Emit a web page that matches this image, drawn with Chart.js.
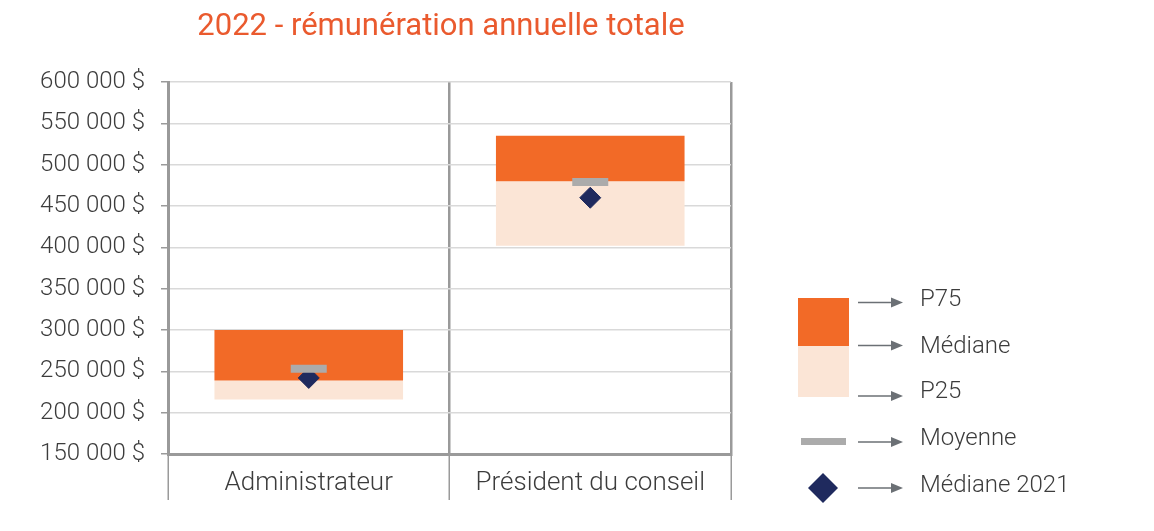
<!DOCTYPE html>
<html><head><meta charset="utf-8">
<script src="https://cdn.jsdelivr.net/npm/chart.js@4/dist/chart.umd.min.js"></script>
<style>html,body{margin:0;padding:0;background:#fff}#wrap{width:1154px;height:531px;position:relative}</style>
</head><body><div id="wrap"><canvas id="c" width="1154" height="531"></canvas></div>
<script>
const titleText = '2022 - rémunération annuelle totale';
const categories = ['Administrateur', 'Président du conseil'];
const p25 = [216000, 402000];
const mediane = [239000, 480000];
const p75 = [300000, 535000];
const moyenne = [253000, 479000];
const mediane2021 = [242000, 460000];
const yTicks = [150000, 200000, 250000, 300000, 350000, 400000, 450000, 500000, 550000, 600000];
const legendLabels = ['P75', 'Médiane', 'P25', 'Moyenne', 'Médiane 2021'];

const ORANGE = '#F26A27', LIGHT = '#FBE5D6', GREY = '#ABABAB', NAVY = '#1F2A5E', TEXT = '#3c3c3c';
const FONT = 'Roboto, "DejaVu Sans", sans-serif';

function fmt(v){ return String(v).replace(/\B(?=(\d{3})+(?!\d))/g, ' ') + ' $'; }

const extras = {
  id: 'extras',
  afterDraw(chart){
    const ctx = chart.ctx;
    ctx.save();
    ctx.fillStyle = '#EA5A2E';
    ctx.font = '400 31px ' + FONT;
    ctx.textAlign = 'center';
    ctx.textBaseline = 'middle';
    ctx.fillText(titleText, 441, 27);
    ctx.fillStyle = ORANGE; ctx.fillRect(798, 298, 51, 48);
    ctx.fillStyle = LIGHT; ctx.fillRect(798, 346, 51, 51);
    ctx.fillStyle = GREY; ctx.fillRect(801, 438, 45, 7);
    ctx.fillStyle = NAVY;
    ctx.beginPath(); ctx.moveTo(823, 473); ctx.lineTo(838, 488); ctx.lineTo(823, 503); ctx.lineTo(808, 488); ctx.closePath(); ctx.fill();
    const arrowY = [302.5, 345.5, 396, 442, 488];
    const textY = [300, 347, 392, 439, 486];
    ctx.strokeStyle = '#6b7075'; ctx.fillStyle = '#6b7075'; ctx.lineWidth = 1.3;
    arrowY.forEach(y => {
      ctx.beginPath(); ctx.moveTo(858, y); ctx.lineTo(893, y); ctx.stroke();
      ctx.beginPath(); ctx.moveTo(891, y - 5); ctx.lineTo(903, y); ctx.lineTo(891, y + 5); ctx.closePath(); ctx.fill();
    });
    ctx.fillStyle = TEXT; ctx.font = '300 24px ' + FONT; ctx.textAlign = 'left';
    legendLabels.forEach((t, i) => ctx.fillText(t, 920, textY[i]));
    ctx.restore();
  }
};

new Chart(document.getElementById('c'), {
  data: {
    labels: categories,
    datasets: [
      { type: 'line', label: 'Moyenne', data: moyenne, showLine: false, pointStyle: 'line', pointRadius: 18, pointHoverRadius: 18, pointBorderWidth: 8, pointHoverBorderWidth: 8, borderColor: GREY, backgroundColor: GREY, order: 0 },
      { type: 'line', label: 'Médiane 2021', data: mediane2021, showLine: false, pointStyle: 'rectRot', pointRadius: 10.5, pointHoverRadius: 10.5, pointBorderWidth: 1, borderColor: NAVY, backgroundColor: NAVY, order: 1 },
      { type: 'bar', label: 'P75', data: mediane.map((m, i) => [m, p75[i]]), backgroundColor: ORANGE, grouped: false, barPercentage: 0.67, categoryPercentage: 1, order: 2 },
      { type: 'bar', label: 'P25', data: p25.map((p, i) => [p, mediane[i]]), backgroundColor: LIGHT, grouped: false, barPercentage: 0.67, categoryPercentage: 1, order: 3 }
    ]
  },
  options: {
    responsive: false,
    animation: false,
    events: [],
    layout: { padding: { top: 82, right: 423, bottom: 0, left: 0 } },
    plugins: { legend: { display: false }, tooltip: { enabled: false }, title: { display: false } },
    scales: {
      x: {
        offset: true,
        grid: { offset: true, color: '#9a9a9a', lineWidth: 2.5, tickLength: 46, tickColor: '#9a9a9a', tickWidth: 1.5 },
        border: { color: '#9a9a9a', width: 3 },
        ticks: { color: TEXT, font: { family: FONT, size: 26, weight: '300' }, padding: -32 },
        afterFit(s){ s.height = 77; }
      },
      y: {
        min: 150000, max: 600000,
        afterBuildTicks(s){ s.ticks = yTicks.map(v => ({ value: v })); },
        grid: { color: '#d9d9d9', lineWidth: 1.5, tickLength: 7, tickColor: '#9a9a9a' },
        border: { color: '#9a9a9a', width: 3 },
        ticks: { color: TEXT, font: { family: FONT, size: 24, weight: '300' }, padding: 16, callback: v => fmt(v) },
        afterFit(s){ s.width = 168; }
      }
    }
  },
  plugins: [extras]
});
</script></body></html>
